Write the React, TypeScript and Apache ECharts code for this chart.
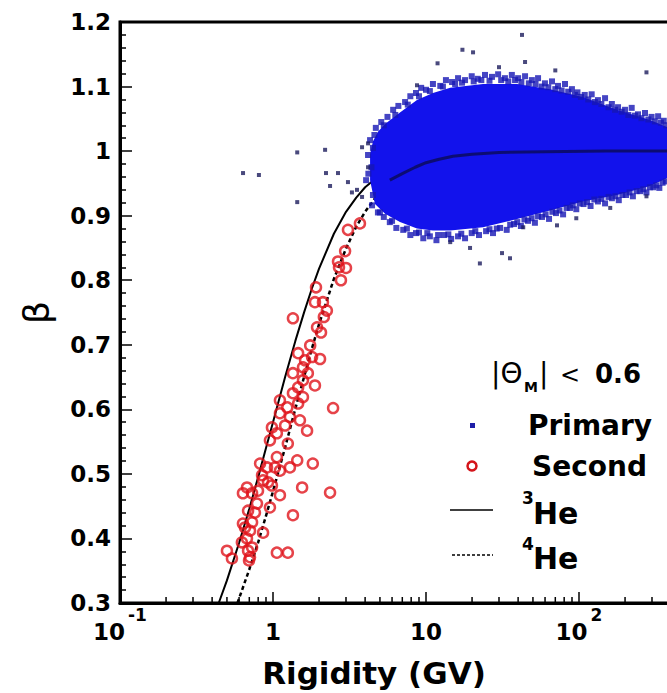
import React, { useEffect, useRef } from 'react';
import * as echarts from 'echarts';

// ---- axis ranges / ticks ----
const X_MIN = 0.1;
const X_MAX = 1000;
const Y_MIN = 0.3;
const Y_MAX = 1.2;
const Y_INTERVAL = 0.1;
const xLabelTicks = [0.1, 1, 10, 100];
const xTickBase = ['10', '1', '10', '10'];
const xTickExp = ['-1', '', '', '2'];
const xMinorTicks = [
  0.2, 0.3, 0.4, 0.5, 0.6, 0.7, 0.8, 0.9,
  2, 3, 4, 5, 6, 7, 8, 9,
  20, 30, 40, 50, 60, 70, 80, 90,
  200, 300, 400, 500, 600, 700, 800, 900,
];

// ---- curves (rigidity GV, beta) ----
const he3Curve: number[][] = [
  [0.442, 0.3], [0.5, 0.335], [0.6, 0.393], [0.7, 0.446], [0.8, 0.495], [0.9, 0.54],
  [1.0, 0.58], [1.2, 0.65], [1.4, 0.706], [1.6, 0.751], [1.8, 0.788], [2.0, 0.818],
  [2.5, 0.872], [3.0, 0.906], [3.5, 0.928], [4, 0.944], [5, 0.963], [6, 0.974],
  [8, 0.985], [10, 0.99], [15, 0.996], [20, 0.998], [40, 0.999], [100, 1.0], [500, 1.0],
];
const he4Curve: number[][] = [
  [0.586, 0.3], [0.7, 0.352], [0.8, 0.394], [0.9, 0.435], [1.0, 0.473], [1.2, 0.541],
  [1.4, 0.601], [1.6, 0.651], [1.8, 0.695], [2.0, 0.732], [2.5, 0.802], [3.0, 0.849],
  [3.5, 0.883], [4, 0.906], [5, 0.937], [6, 0.955], [8, 0.974], [10, 0.983],
  [15, 0.992], [20, 0.996], [40, 0.999], [100, 1.0], [500, 1.0],
];
// dense ridge of primary events inside the cloud
const primaryRidge: number[][] = [
  [5.8, 0.955], [7, 0.965], [8.5, 0.975], [10, 0.982], [12, 0.987], [15, 0.992],
  [20, 0.995], [30, 0.998], [60, 0.999], [150, 1.0], [457, 1.0],
];

// ---- primary cloud: dense core outline ----
const cloudUpper: number[][] = [
  [4.31, 0.995], [4.5, 1.015], [4.85, 1.03], [5.4, 1.042], [6.76, 1.06], [8.73, 1.079],
  [11.1, 1.09], [14.4, 1.098], [23.6, 1.104], [39.4, 1.104], [64.6, 1.096], [106, 1.084],
  [177, 1.064], [291, 1.048], [457, 1.029],
];
const cloudLower: number[][] = [
  [4.31, 0.955], [4.64, 0.918], [5.4, 0.903], [6.76, 0.89], [8.73, 0.88], [11.1, 0.877],
  [14.4, 0.877], [23.6, 0.882], [39.4, 0.895], [64.6, 0.908], [106, 0.922], [177, 0.932],
  [291, 0.946], [376, 0.958], [457, 0.968],
];
// ragged edge events of the primary cloud
const primaryEdge: number[][] = [
  [4.7, 1.036], [5.1, 1.045], [5.6, 1.053], [6.1, 1.064], [6.6, 1.07], [7.3, 1.076],
  [7.9, 1.085], [8.6, 1.09], [9.3, 1.098], [10.0, 1.095], [11.1, 1.104], [12.4, 1.101],
  [13.5, 1.11], [14.8, 1.107], [16.2, 1.113], [18.0, 1.11], [19.9, 1.116], [21.8, 1.112],
  [24.3, 1.118], [27.0, 1.115], [29.6, 1.119], [32.8, 1.113], [36.4, 1.118], [40.0, 1.113],
  [44.4, 1.116], [49.2, 1.11], [54.0, 1.113], [59.9, 1.105], [66.6, 1.108], [72.9, 1.101],
  [81.0, 1.104], [89.9, 1.096], [97.7, 1.091], [109, 1.087], [121, 1.088], [133, 1.079],
  [148, 1.082], [164, 1.073], [180, 1.068], [200, 1.064], [221, 1.067], [243, 1.057],
  [270, 1.059], [298, 1.053], [329, 1.054], [358, 1.047],
  [5.3, 1.04], [6.3, 1.056], [7.6, 1.072], [9.0, 1.085], [10.6, 1.093], [12.9, 1.1],
  [15.5, 1.104], [17.2, 1.106], [20.5, 1.108], [23.0, 1.11], [26.0, 1.109], [31.0, 1.11],
  [34.5, 1.108], [38.2, 1.11], [42.0, 1.107], [47.0, 1.105], [52.0, 1.104], [57.0, 1.1],
  [63.0, 1.099], [70.0, 1.096], [77.0, 1.094], [85.0, 1.092], [94.0, 1.087], [103, 1.084],
  [115, 1.08], [127, 1.076], [140, 1.073], [156, 1.068], [172, 1.064], [190, 1.061],
  [210, 1.056], [232, 1.055], [256, 1.051], [284, 1.049], [313, 1.046], [343, 1.044], [372, 1.04],
  [4.44, 0.916], [4.85, 0.905], [5.3, 0.898], [5.8, 0.89], [6.4, 0.881], [7.1, 0.878],
  [7.9, 0.87], [8.6, 0.873], [9.6, 0.865], [10.6, 0.868], [11.7, 0.862], [13.1, 0.87],
  [14.6, 0.864], [16.2, 0.868], [18.0, 0.865], [19.9, 0.873], [22.2, 0.87], [24.7, 0.876],
  [27.4, 0.873], [30.5, 0.881], [33.7, 0.878], [37.6, 0.887], [41.7, 0.884], [46.4, 0.892],
  [51.5, 0.889], [57.3, 0.898], [63.7, 0.895], [70.7, 0.904], [78.7, 0.902], [87.3, 0.912],
  [96, 0.91], [107, 0.918], [119, 0.915], [133, 0.922], [148, 0.919], [164, 0.927],
  [182, 0.924], [203, 0.932], [225, 0.93], [251, 0.938], [276, 0.936], [306, 0.944],
  [335, 0.943], [370, 0.953],
  [5.0, 0.905], [6.0, 0.892], [7.5, 0.88], [9.0, 0.874], [10.2, 0.873], [12.0, 0.87],
  [14.0, 0.871], [17.0, 0.872], [21.0, 0.876], [26.0, 0.879], [29.0, 0.88], [35.5, 0.886],
  [39.5, 0.89], [44.0, 0.894], [49.0, 0.896], [54.0, 0.899], [60.5, 0.902], [67.0, 0.906],
  [74.5, 0.908], [83.0, 0.912], [91.0, 0.916], [101, 0.919], [113, 0.921], [126, 0.925],
  [140, 0.926], [156, 0.929], [173, 0.93], [192, 0.932], [214, 0.936], [238, 0.938],
  [263, 0.941], [291, 0.944], [320, 0.947], [352, 0.951],
  [4.18, 0.994], [4.06, 0.955], [4.31, 1.017], [4.5, 0.932], [4.4, 0.975], [4.2, 0.965],
  [4.5, 1.005], [4.6, 1.025],
];
// isolated primary events
const primaryOutliers: number[][] = [
  [42.4, 1.18], [17.3, 1.157], [20.3, 1.153], [44.4, 1.138], [276, 1.122], [11.9, 1.136],
  [8.73, 1.102], [19.4, 0.85], [31.4, 0.842], [22.5, 0.826], [35.4, 0.834], [71.8, 0.885],
  [96, 0.896], [160, 0.912], [276, 0.93], [3.82, 1.006], [3.54, 0.94], [4.18, 0.975],
  [0.637, 0.966], [0.809, 0.963], [1.44, 0.998], [2.19, 1.002], [2.22, 0.966], [2.66, 0.966],
  [1.44, 0.921], [2.36, 0.946], [3.09, 0.952], [3.28, 0.936], [4.18, 1.012], [3.82, 0.929],
  [14.4, 0.859], [43.2, 0.882], [30, 1.13], [70, 1.125],
];

// ---- secondary events ----
const secondary: number[][] = [
  [3.7, 0.888], [3.09, 0.878], [2.96, 0.845], [2.66, 0.829], [2.7, 0.82], [3.0, 0.819],
  [2.78, 0.8], [1.91, 0.789], [1.88, 0.766], [2.12, 0.766], [2.25, 0.753], [2.15, 0.743],
  [1.35, 0.741], [1.94, 0.727], [2.06, 0.719], [1.46, 0.687], [1.62, 0.676], [1.8, 0.681],
  [2.03, 0.678], [1.57, 0.665], [1.35, 0.656], [1.69, 0.656], [1.88, 0.637], [1.46, 0.634],
  [1.35, 0.625], [1.57, 0.619], [1.11, 0.614], [1.24, 0.603], [1.46, 0.609], [2.47, 0.602],
  [1.11, 0.594], [1.29, 0.588], [1.5, 0.583], [1.67, 0.567], [0.984, 0.572], [1.06, 0.563],
  [0.955, 0.552], [1.25, 0.547], [1.82, 0.516], [1.44, 0.521], [1.06, 0.526], [0.823, 0.516],
  [0.914, 0.51], [1.03, 0.51], [1.29, 0.51], [0.861, 0.49], [0.984, 0.482], [0.676, 0.479],
  [0.636, 0.47], [0.73, 0.47], [1.11, 0.467], [1.55, 0.479], [2.36, 0.471], [1.11, 0.505],
  [0.928, 0.487], [0.786, 0.454], [0.955, 0.448], [1.35, 0.436], [0.73, 0.425], [0.656, 0.417],
  [0.861, 0.409], [0.676, 0.4], [0.626, 0.394], [0.73, 0.386], [0.5, 0.381], [0.539, 0.369],
  [0.708, 0.371], [0.687, 0.381], [1.06, 0.378], [1.25, 0.378], [0.697, 0.366], [0.636, 0.423],
  [0.708, 0.412], [0.762, 0.44], [0.848, 0.498], [1.2, 0.575], [1.57, 0.645], [1.75, 0.699],
  [0.687, 0.443], [0.798, 0.474],
];

const cloudPolygon = cloudUpper.concat(cloudLower.slice().reverse());

const FONT = '"DejaVu Sans", "Liberation Sans", sans-serif';

export default function App() {
  const ref = useRef<HTMLDivElement>(null);
  useEffect(() => {
    if (!ref.current) return;
    const chart = echarts.init(ref.current, undefined, { renderer: 'svg' });
    const option: any = {
      animation: false,
      backgroundColor: '#ffffff',
      grid: {
        left: 120, top: 22, width: 612, height: 581,
        outerBoundsMode: 'none', containLabel: false,
        show: true, borderColor: '#000', borderWidth: 3, backgroundColor: 'transparent',
      },
      xAxis: {
        type: 'log', logBase: 10, min: X_MIN, max: X_MAX,
        axisLine: { show: true, onZero: false, lineStyle: { color: '#000', width: 3 } },
        axisTick: { show: true, inside: true, length: 11, lineStyle: { color: '#000', width: 1.5 } },
        splitLine: { show: false },
        axisLabel: {
          margin: 10,
          color: '#000',
          formatter: (v: number) => {
            const e = Math.round(Math.log10(v));
            const i = xLabelTicks.findIndex((t) => Math.round(Math.log10(t)) === e);
            if (i < 0) return '';
            return xTickExp[i] ? `{b|${xTickBase[i]}}{sup|${xTickExp[i]}}` : `{b|${xTickBase[i]}}`;
          },
          rich: {
            b: { fontFamily: FONT, fontWeight: 'bold', fontSize: 23, lineHeight: 24, padding: [14, 0, 0, 0], color: '#000' },
            sup: { fontFamily: FONT, fontWeight: 'bold', fontSize: 17, lineHeight: 18, padding: [0, 0, 20, 3], color: '#000' },
          },
        },
      },
      yAxis: {
        type: 'value', min: Y_MIN, max: Y_MAX, interval: Y_INTERVAL,
        name: 'β', nameLocation: 'middle', nameGap: 66, nameRotate: 90,
        nameTextStyle: { fontFamily: FONT, fontSize: 36, color: '#000' },
        axisLine: { show: true, onZero: false, lineStyle: { color: '#000', width: 3 } },
        axisTick: { show: true, inside: true, length: 12, lineStyle: { color: '#000', width: 1.5 } },
        minorTick: { show: true, splitNumber: 5, length: 6, lineStyle: { color: '#000', width: 1.5 } },
        splitLine: { show: false },
        axisLabel: {
          margin: 9, color: '#000', fontFamily: FONT, fontWeight: 'bold', fontSize: 23,
          formatter: (v: number) => String(Math.round(v * 10) / 10),
        },
      },
      series: [
        {
          name: '4He', type: 'line', data: he4Curve, showSymbol: false, z: 2,
          lineStyle: { color: '#000', width: 2.5, type: [4, 3] }, silent: true,
        },
        {
          name: '3He', type: 'line', data: he3Curve, showSymbol: false, z: 2,
          lineStyle: { color: '#000', width: 2 }, silent: true,
        },
        {
          name: 'PrimaryCore', type: 'custom', coordinateSystem: 'cartesian2d',
          data: cloudPolygon, encode: { x: 0, y: 1 }, z: 3, silent: true,
          renderItem: (params: any, api: any) => {
            if (params.dataIndex !== 0) return null;
            const pts = cloudPolygon.map((p) => api.coord(p));
            return { type: 'polygon', shape: { points: pts }, style: { fill: '#1212ec' } };
          },
        },
        {
          name: 'PrimaryEdge', type: 'scatter', data: primaryEdge, z: 4, silent: true,
          symbol: 'rect', symbolSize: 6, itemStyle: { color: '#1616b4' },
        },
        {
          name: 'Ridge', type: 'line', data: primaryRidge, showSymbol: false, z: 5, silent: true,
          lineStyle: { color: '#0c0c5e', width: 3, opacity: 0.85 },
        },
        {
          name: 'Primary', type: 'scatter', data: primaryOutliers, z: 5, silent: true,
          symbol: 'rect', symbolSize: 4, itemStyle: { color: '#1c1c5c' },
        },
        {
          name: 'Second', type: 'scatter', data: secondary, z: 6, silent: true,
          symbol: 'circle', symbolSize: 10,
          itemStyle: { color: 'rgba(0,0,0,0)', borderColor: '#e0141c', borderWidth: 2.5 },
        },
        {
          name: 'minorTicks', type: 'custom', coordinateSystem: 'cartesian2d',
          data: xMinorTicks.map((v) => [v, Y_MIN]), encode: { x: 0, y: 1 }, z: 7, silent: true,
          renderItem: (params: any, api: any) => {
            const p = api.coord([api.value(0), api.value(1)]);
            return {
              type: 'line',
              shape: { x1: p[0], y1: p[1], x2: p[0], y2: p[1] - 6 },
              style: { stroke: '#000', lineWidth: 1.5 },
            };
          },
        },
      ],
      graphic: [
        { type: 'text', x: 374, y: 673, style: { text: 'Rigidity (GV)', font: `bold 31px ${FONT}`, fill: '#000', align: 'center', verticalAlign: 'middle' } },
        // |Theta_M| < 0.6
        { type: 'text', x: 491, y: 373, style: { text: '|Θ', font: `28px ${FONT}`, fill: '#000', align: 'left', verticalAlign: 'middle' } },
        { type: 'text', x: 524, y: 387, style: { text: 'M', font: `bold 14px ${FONT}`, fill: '#000', align: 'left', verticalAlign: 'middle' } },
        { type: 'text', x: 539, y: 373, style: { text: '|', font: `28px ${FONT}`, fill: '#000', align: 'left', verticalAlign: 'middle' } },
        { type: 'text', x: 560, y: 375, style: { text: '<', font: `24px ${FONT}`, fill: '#000', align: 'left', verticalAlign: 'middle' } },
        { type: 'text', x: 595, y: 374, style: { text: '0.6', font: `bold 26px ${FONT}`, fill: '#000', align: 'left', verticalAlign: 'middle' } },
        // legend
        { type: 'rect', shape: { x: 470, y: 423, width: 5, height: 5 }, style: { fill: '#1e1ea8' } },
        { type: 'text', x: 528, y: 425, style: { text: 'Primary', font: `bold 28px ${FONT}`, fill: '#000', align: 'left', verticalAlign: 'middle' } },
        { type: 'circle', shape: { cx: 472, cy: 466, r: 4.5 }, style: { fill: 'none', stroke: '#d4151b', lineWidth: 2.5 } },
        { type: 'text', x: 532, y: 466, style: { text: 'Second', font: `bold 28px ${FONT}`, fill: '#000', align: 'left', verticalAlign: 'middle' } },
        { type: 'line', shape: { x1: 450, y1: 510, x2: 493, y2: 510 }, style: { stroke: '#000', lineWidth: 1.5 } },
        { type: 'text', x: 522, y: 498, style: { text: '3', font: `bold 17px ${FONT}`, fill: '#000', align: 'left', verticalAlign: 'middle' } },
        { type: 'text', x: 533, y: 513, style: { text: 'He', font: `bold 30px ${FONT}`, fill: '#000', align: 'left', verticalAlign: 'middle' } },
        { type: 'line', shape: { x1: 452, y1: 555, x2: 493, y2: 555 }, style: { stroke: '#000', lineWidth: 1.5, lineDash: [3, 2] } },
        { type: 'text', x: 522, y: 544, style: { text: '4', font: `bold 17px ${FONT}`, fill: '#000', align: 'left', verticalAlign: 'middle' } },
        { type: 'text', x: 533, y: 558, style: { text: 'He', font: `bold 30px ${FONT}`, fill: '#000', align: 'left', verticalAlign: 'middle' } },
      ],
    };
    chart.setOption(option);
    return () => chart.dispose();
  }, []);
  return (
    <div
      ref={ref}
      style={{ position: 'absolute', left: 0, top: 0, width: 667, height: 693, background: '#fff' }}
    />
  );
}
